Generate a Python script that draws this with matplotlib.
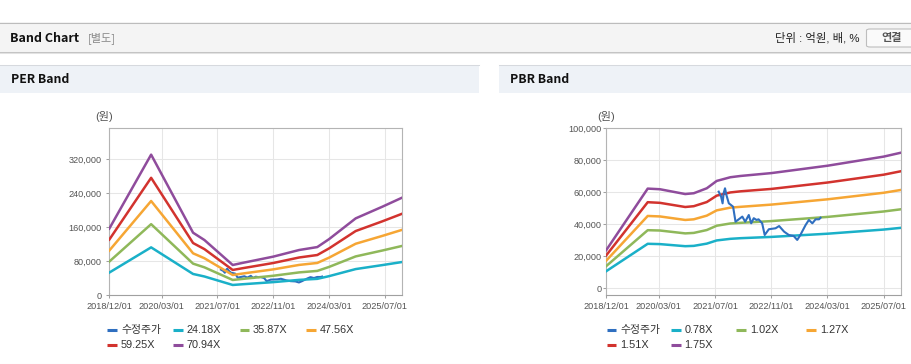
import matplotlib
matplotlib.use('Agg')
import matplotlib.pyplot as plt
from matplotlib.patches import Rectangle, FancyBboxPatch
from matplotlib.lines import Line2D
from matplotlib.ticker import FuncFormatter
import pandas as pd

plt.rcParams['font.family'] = ['Liberation Sans', 'Noto Sans CJK KR']

# ---------------- data ----------------
price_label = '수정주가'
price_dates = ['2021-08-01', '2021-08-22', '2021-09-04', '2021-09-13', '2021-09-25', '2021-10-07',
               '2021-10-28', '2021-11-15', '2021-12-04', '2021-12-25', '2022-01-22', '2022-02-22',
               '2022-03-19', '2022-04-19', '2022-05-10', '2022-06-01', '2022-06-25', '2022-07-13',
               '2022-08-13', '2022-09-04', '2022-10-10', '2022-12-07', '2023-01-07', '2023-02-19',
               '2023-04-01', '2023-05-13', '2023-06-13', '2023-07-10', '2023-08-25', '2023-09-22',
               '2023-10-22', '2023-11-19', '2023-12-19', '2024-01-01']
price_values = [60400, 57300, 53100, 59400, 62500, 58300, 53100, 52100, 51000, 41600, 43100, 44800,
                41600, 45800, 40600, 43800, 42700, 43100, 40600, 33300, 36900, 37500, 38900, 35400,
                33300, 32700, 30200, 33300, 39600, 42700, 40600, 43100, 43100, 44100]

per_dates = ['2018-12-01', '2019-12-01', '2020-12-01', '2021-03-10', '2021-11-12', '2022-02-01',
             '2022-11-01', '2023-06-15', '2023-11-20', '2024-03-01', '2024-10-20', '2025-06-10',
             '2025-12-01']
per_labels = ['24.18X', '35.87X', '47.56X', '59.25X', '70.94X']
per_24_18 = [53500, 112800, 50200, 44300, 24300, 25900, 31000, 36300, 38700, 45000, 61700, 71100, 78400]
per_35_87 = [79400, 167400, 74500, 65800, 36100, 38400, 46000, 53900, 57400, 66700, 91500, 105400, 116300]
per_47_56 = [105300, 221900, 98800, 87200, 47800, 51000, 61000, 71500, 76100, 88500, 121300, 139800, 154200]
per_59_25 = [131100, 276500, 123000, 108700, 59600, 63500, 76000, 89000, 94800, 110200, 151200, 174100, 192100]
per_70_94 = [157000, 331000, 147300, 130100, 71300, 76000, 91000, 106600, 113500, 132000, 181000, 208500, 230000]

pbr_dates = ['2018-12-01', '2019-11-25', '2020-03-10', '2020-10-15', '2020-12-28', '2021-04-20',
             '2021-07-15', '2021-11-10', '2022-02-06', '2022-11-01', '2024-03-01', '2025-07-01',
             '2025-12-01']
pbr_labels = ['0.78X', '1.02X', '1.27X', '1.51X', '1.75X']
pbr_0_78 = [10700, 27800, 27600, 26300, 26500, 27900, 29900, 30900, 31300, 32100, 34100, 36700, 37800]
pbr_1_02 = [13900, 36300, 36100, 34300, 34600, 36400, 39100, 40500, 40900, 42000, 44600, 48000, 49400]
pbr_1_27 = [17300, 45200, 44900, 42700, 43100, 45400, 48700, 50400, 50900, 52300, 55600, 59700, 61500]
pbr_1_51 = [20600, 53800, 53400, 50800, 51300, 53900, 57900, 59900, 60600, 62100, 66100, 71000, 73200]
pbr_1_75 = [23900, 62300, 61900, 58900, 59400, 62500, 67100, 69400, 70200, 72000, 76600, 82300, 84800]

x_tick_dates = ['2018-12-01', '2020-03-01', '2021-07-01', '2022-11-01', '2024-03-01', '2025-07-01']
x_tick_labels = ['2018/12/01', '2020/03/01', '2021/07/01', '2022/11/01', '2024/03/01', '2025/07/01']
per_yticks = [0, 80000, 160000, 240000, 320000]
pbr_yticks = [0, 20000, 40000, 60000, 80000, 100000]

# ---------------- style ----------------
price_color = '#2f6fc0'
band_colors = ['#1ab0c8', '#8fb85a', '#f6a634', '#d2332e', '#8f4c9c']

W, H = 912, 364
fig = plt.figure(figsize=(W / 100, H / 100), dpi=100)
fig.patch.set_facecolor('white')


def fx(x):
    return x / W


def fy(y):
    return 1 - y / H


def hline(x0, x1, y, color, lw=0.75):
    fig.add_artist(Line2D([fx(x0), fx(x1)], [fy(y), fy(y)], color=color, lw=lw,
                          transform=fig.transFigure))


# header bar
fig.add_artist(Rectangle((0, fy(52)), 1, 29.5 / H, transform=fig.transFigure,
                         facecolor='#f4f4f4', edgecolor='none'))
hline(0, W, 22.5, '#bcbcbc')
hline(0, W, 52.3, '#c4c4c4')
hline(0, W, 53.3, '#e2e2e2')
fig.text(fx(10), fy(38), 'Band Chart', fontsize=9, fontweight='bold', color='#111',
         va='center', ha='left', family=['Noto Sans CJK KR'])
fig.text(fx(88), fy(38), '[별도]', fontsize=8, color='#888', va='center', ha='left',
         family=['Noto Sans CJK KR'])
fig.text(fx(859.5), fy(38), '단위 : 억원, 배, %', fontsize=8.2, color='#222', va='center',
         ha='right', family=['Liberation Sans', 'Noto Sans CJK KR'])
fig.add_artist(FancyBboxPatch((fx(866.5), fy(47)), 50 / W, 18 / H, transform=fig.transFigure,
                              boxstyle='round,pad=0,rounding_size=0.004',
                              facecolor='#fafafa', edgecolor='#bdbdbd', lw=0.8))
fig.text(fx(891.5), fy(38), '연결', fontsize=8, color='#555', va='center', ha='center',
         fontweight='bold', family=['Noto Sans CJK KR'])

# panel headers
for x0, x1, title in [(0, 479, 'PER Band'), (499, W, 'PBR Band')]:
    fig.add_artist(Rectangle((fx(x0), fy(92.5)), (x1 - x0) / W, 28 / H, transform=fig.transFigure,
                             facecolor='#eef2f7', edgecolor='none'))
    hline(x0, x1, 64.5, '#d6d9de')
    hline(x0, x1, 363.5, '#cfcfcf')
    fig.text(fx(x0 + 11), fy(79.5), title, fontsize=8.8, fontweight='bold', color='#111',
             va='center', ha='left', family=['Noto Sans CJK KR'])

fmt = FuncFormatter(lambda v, p: f'{int(v):,}')


def setup_axes(ax, yticks, ylim, ypad):
    ax.set_facecolor('white')
    ax.set_xlim(pd.Timestamp('2018-12-01'), pd.Timestamp('2025-12-01'))
    ax.set_ylim(*ylim)
    ax.set_xticks(pd.to_datetime(x_tick_dates))
    ax.set_xticklabels(x_tick_labels)
    ax.set_yticks(yticks)
    ax.yaxis.set_major_formatter(fmt)
    ax.grid(True, color='#e6e6e6', lw=0.75)
    ax.set_axisbelow(True)
    for s in ax.spines.values():
        s.set_color('#b4b4b4')
        s.set_linewidth(0.8)
    ax.spines['bottom'].set_color('#a0a0a0')
    ax.tick_params(axis='both', length=2.5, width=0.75, color='#a0a0a0', labelsize=6.6,
                   labelcolor='#555555')
    ax.tick_params(axis='x', pad=2.5)
    ax.tick_params(axis='y', pad=ypad)


# PER chart
ax1 = fig.add_axes([fx(109.3), fy(295.3), 293 / W, 167 / H])
setup_axes(ax1, per_yticks, (0, 393000), 3.0)
per_series = [per_24_18, per_35_87, per_47_56, per_59_25, per_70_94]
ax1.plot(pd.to_datetime(price_dates), price_values, color=price_color, lw=1.5, zorder=2)
for vals, c in zip(per_series, band_colors):
    ax1.plot(pd.to_datetime(per_dates), vals, color=c, lw=1.8, zorder=3)

# PBR chart
ax2 = fig.add_axes([fx(606.3), fy(295.3), 295 / W, 167 / H])
setup_axes(ax2, pbr_yticks, (-4400, 100000), 1.0)
pbr_series = [pbr_0_78, pbr_1_02, pbr_1_27, pbr_1_51, pbr_1_75]
for vals, c in zip(pbr_series, band_colors):
    ax2.plot(pd.to_datetime(pbr_dates), vals, color=c, lw=1.8, zorder=3)
ax2.plot(pd.to_datetime(price_dates), price_values, color=price_color, lw=1.5, zorder=4)

# unit labels
fig.text(fx(104.5), fy(117), '(원)', fontsize=8, color='#555', ha='center', va='center')
fig.text(fx(606), fy(117), '(원)', fontsize=8, color='#555', ha='center', va='center')

# legends
def draw_legend(labels, colors, cols_x, rows_y):
    for i, (lab, c) in enumerate(zip(labels, colors)):
        x = cols_x[i % 4]
        y = rows_y[i // 4]
        fig.add_artist(Line2D([fx(x), fx(x + 10)], [fy(y), fy(y)], color=c, lw=2.2,
                              transform=fig.transFigure, solid_capstyle='butt'))
        fig.text(fx(x + 13.5), fy(y), lab, fontsize=7.8, color='#333', ha='left', va='center')


draw_legend([price_label] + per_labels, [price_color] + band_colors,
            [107.5, 173.5, 239.5, 306], [330, 344.5])
draw_legend([price_label] + pbr_labels, [price_color] + band_colors,
            [606.5, 671, 736.5, 806.5], [330, 344.5])

fig.savefig('out.png', dpi=100, facecolor='white')
